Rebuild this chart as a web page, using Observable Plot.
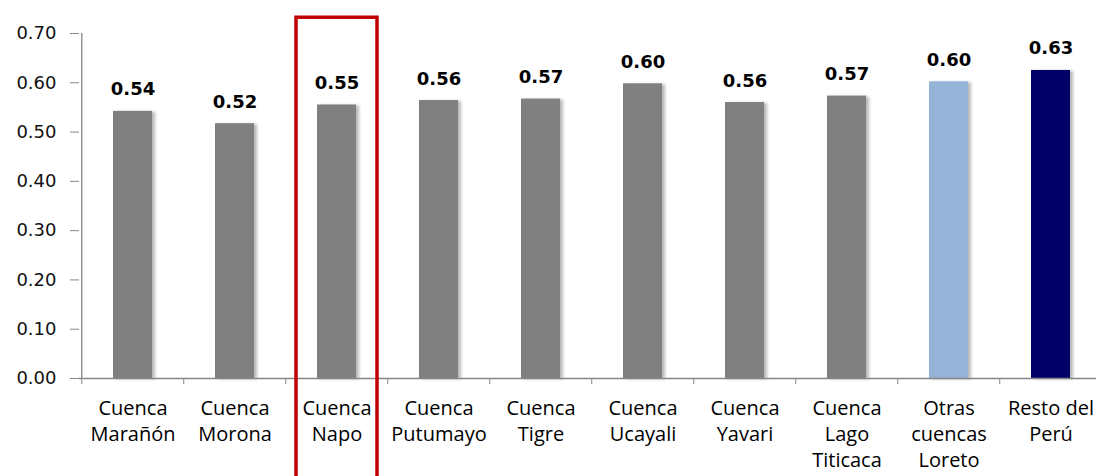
<!DOCTYPE html>
<html>
<head>
<meta charset="utf-8">
<script src="https://cdn.jsdelivr.net/npm/d3@7"></script>
<script src="https://cdn.jsdelivr.net/npm/@observablehq/plot@0.6"></script>
<style>
  html, body { margin: 0; padding: 0; background: #fff; overflow: hidden; }
  #chart { width: 1096px; height: 476px; overflow: hidden; }
</style>
</head>
<body>
<div id="chart"></div>
<script>
const categories = ["Cuenca Marañón", "Cuenca Morona", "Cuenca Napo", "Cuenca Putumayo", "Cuenca Tigre", "Cuenca Ucayali", "Cuenca Yavari", "Cuenca Lago Titicaca", "Otras cuencas Loreto", "Resto del Perú"];
const axisLabels = ["Cuenca\nMarañón", "Cuenca\nMorona", "Cuenca\nNapo", "Cuenca\nPutumayo", "Cuenca\nTigre", "Cuenca\nUcayali", "Cuenca\nYavari", "Cuenca\nLago\nTiticaca", "Otras\ncuencas\nLoreto", "Resto del\nPerú"];
const values = [0.542, 0.517, 0.555, 0.564, 0.567, 0.598, 0.560, 0.573, 0.602, 0.625];
const valueLabels = ["0.54", "0.52", "0.55", "0.56", "0.57", "0.60", "0.56", "0.57", "0.60", "0.63"];
const yTicks = [0, 0.1, 0.2, 0.3, 0.4, 0.5, 0.6, 0.7];
const highlighted = "Cuenca Napo";

const data = categories.map((c, i) => ({cat: c, value: values[i], label: valueLabels[i], name: axisLabels[i]}));

const W = 1096, H = 476, ML = 79, MR = -8;
const step = (W - ML - MR) / categories.length;
const barColor = d => d.cat === "Resto del Perú" ? "#000066" : d.cat === "Otras cuencas Loreto" ? "#95B3D7" : "#808080";
const axisGray = "#868686";

const chart = Plot.plot({
  width: W, height: H,
  marginLeft: ML, marginRight: MR, marginTop: 33, marginBottom: 98,
  x: {domain: categories, paddingInner: 0.62, paddingOuter: 0.31, label: null},
  y: {domain: [0, 0.7], label: null},
  style: {fontFamily: "DejaVu Sans", background: "#fff", overflow: "hidden"},
  marks: [
    Plot.barY(data, {x: "cat", y: "value", fill: barColor}),
    Plot.ruleY([0], {stroke: axisGray, strokeWidth: 1.3}),
    Plot.ruleX([categories[0]], {x: d => d, dx: -step / 2, y1: 0, y2: 0.7, stroke: axisGray, strokeWidth: 1.3}),
    Plot.axisY({ticks: yTicks, tickFormat: d => d.toFixed(2), tickSize: 9, tickPadding: 14, stroke: axisGray, fill: "#111", fontSize: 18, label: null}),
    Plot.axisX({tickSize: 6, tickFormat: () => "", dx: -step / 2, stroke: axisGray, label: null}),
    Plot.text(data, {x: "cat", y: "value", text: "label", dy: -16, lineAnchor: "bottom", fontWeight: "bold", fontSize: 18, fill: "black"}),
    Plot.text(data, {x: "cat", y: 0, text: "name", lineAnchor: "top", dy: 18, fontSize: 20, lineHeight: 1.3, fontFamily: "Open Sans", fill: "black"}),
    Plot.barY([highlighted], {x: d => d, y1: -0.21, y2: 0.732, fill: "none", stroke: "#C00000", strokeWidth: 3.5, insetLeft: -21, insetRight: -21})
  ]
});
document.getElementById("chart").appendChild(chart);
const barGroup = chart.querySelector('g[aria-label="bar"]');
if (barGroup) barGroup.querySelectorAll("rect").forEach(r => r.style.filter = "drop-shadow(3px 1px 1.5px rgba(0,0,0,0.28))");
chart.querySelectorAll('g[aria-label="y-axis tick label"]').forEach(g => { g.setAttribute("font-size", "18"); g.style.fontSize = "18px"; });
</script>
</body>
</html>
